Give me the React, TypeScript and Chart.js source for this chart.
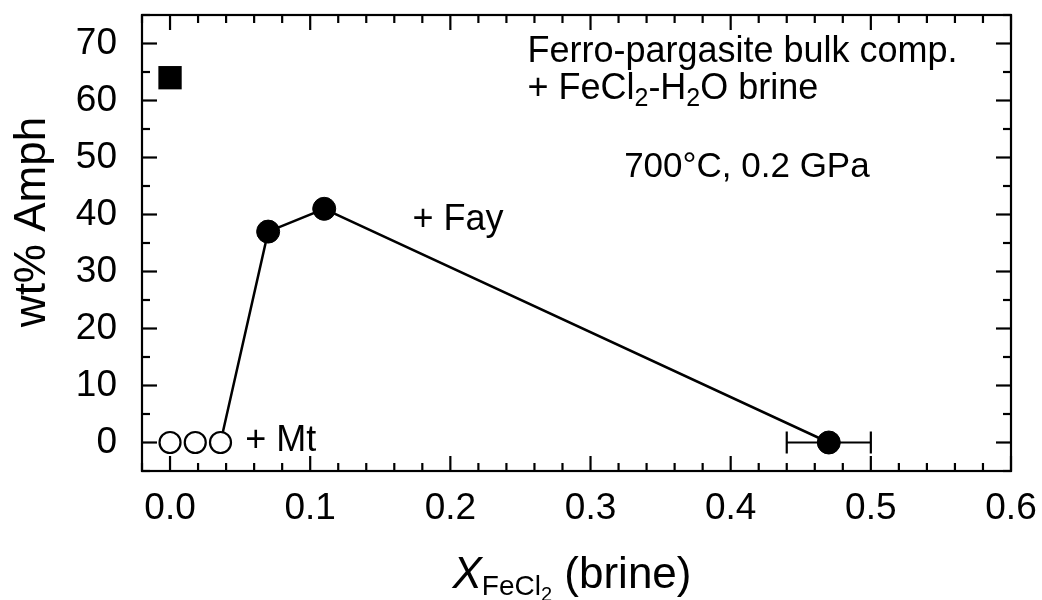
import React, { useEffect, useRef } from 'react';
import { Chart, registerables } from 'chart.js';

Chart.register(...registerables);

// ---- axes ----
const xMin = -0.02;
const xMax = 0.6;
const yMin = -5;
const yMax = 75;
const xTicks = [0.0, 0.1, 0.2, 0.3, 0.4, 0.5, 0.6];
const yTicks = [0, 10, 20, 30, 40, 50, 60, 70];
const xMinorStep = 0.02;
const yMinorStep = 5;

// ---- data ----
// connecting trend line
const lineX = [0.036, 0.07, 0.11, 0.47];
const lineY = [0, 37, 41, 0];
// filled circles (+ Fay)
const fayX = [0.07, 0.11, 0.47];
const fayY = [37, 41, 0];
// open circles (+ Mt)
const mtX = [0.0, 0.018, 0.036];
const mtY = [0, 0, 0];
// filled square (bulk)
const bulkX = [0.0];
const bulkY = [64];
// horizontal error bar
const errX = [0.47];
const errY = [0];
const errLo = [0.44];
const errHi = [0.5];

const FONT = "'Liberation Sans', Arial, Helvetica, sans-serif";

type Run = { t: string; size: number; dy: number; italic?: boolean };

function runsWidth(ctx: CanvasRenderingContext2D, runs: Run[]) {
  let w = 0;
  for (const r of runs) {
    ctx.font = `${r.italic ? 'italic ' : ''}${r.size}px ${FONT}`;
    w += ctx.measureText(r.t).width;
  }
  return w;
}

function drawRuns(ctx: CanvasRenderingContext2D, runs: Run[], x: number, y: number) {
  let cx = x;
  ctx.textAlign = 'left';
  ctx.textBaseline = 'alphabetic';
  for (const r of runs) {
    ctx.font = `${r.italic ? 'italic ' : ''}${r.size}px ${FONT}`;
    ctx.fillText(r.t, cx, y + r.dy);
    cx += ctx.measureText(r.t).width;
  }
}

const framePlugin = {
  id: 'frame',
  beforeDatasetsDraw(chart: any) {
    const { ctx, chartArea, scales } = chart;
    const { left, right, top, bottom } = chartArea;
    const xs = scales.x;
    const ys = scales.y;
    ctx.save();
    ctx.strokeStyle = '#000';
    ctx.lineWidth = 2.2;
    ctx.strokeRect(left, top, right - left, bottom - top);
    const seg = (a: number, b: number, c: number, d: number) => {
      ctx.beginPath();
      ctx.moveTo(a, b);
      ctx.lineTo(c, d);
      ctx.stroke();
    };
    const majorLen = 15;
    const minorLen = 8;
    const nx = Math.round((xMax - xMin) / xMinorStep);
    for (let i = 0; i <= nx; i++) {
      const v = xMin + i * xMinorStep;
      const isMajor = xTicks.some((t) => Math.abs(t - v) < 1e-6);
      const len = isMajor ? majorLen : minorLen;
      const px = xs.getPixelForValue(v);
      seg(px, bottom, px, bottom - len);
      seg(px, top, px, top + len);
    }
    const ny = Math.round((yMax - yMin) / yMinorStep);
    for (let i = 0; i <= ny; i++) {
      const v = yMin + i * yMinorStep;
      const isMajor = yTicks.some((t) => Math.abs(t - v) < 1e-6);
      const len = isMajor ? majorLen : minorLen;
      const py = ys.getPixelForValue(v);
      seg(left, py, left + len, py);
      seg(right, py, right - len, py);
    }
    // error bars
    ctx.lineWidth = 2.2;
    for (let i = 0; i < errX.length; i++) {
      const py = ys.getPixelForValue(errY[i]);
      const a = xs.getPixelForValue(errLo[i]);
      const b = xs.getPixelForValue(errHi[i]);
      seg(a, py, b, py);
      seg(a, py - 11, a, py + 11);
      seg(b, py - 11, b, py + 11);
    }
    ctx.restore();
  },
  afterDatasetsDraw(chart: any) {
    const { ctx, scales } = chart;
    const xs = scales.x;
    const ys = scales.y;
    ctx.save();
    ctx.fillStyle = '#000';
    const A = 36;
    const at = (x: number, y: number) => [xs.getPixelForValue(x), ys.getPixelForValue(y)];
    let p = at(0.255, 66.8);
    drawRuns(ctx, [{ t: 'Ferro-pargasite bulk comp.', size: A, dy: 0 }], p[0], p[1]);
    p = at(0.255, 60.3);
    drawRuns(
      ctx,
      [
        { t: '+ FeCl', size: A, dy: 0 },
        { t: '2', size: 25, dy: 7 },
        { t: '-H', size: A, dy: 0 },
        { t: '2', size: 25, dy: 7 },
        { t: 'O brine', size: A, dy: 0 },
      ],
      p[0],
      p[1]
    );
    p = at(0.324, 46.5);
    drawRuns(ctx, [{ t: '700°C, 0.2 GPa', size: 35, dy: 0 }], p[0], p[1]);
    p = at(0.173, 37.3);
    drawRuns(ctx, [{ t: '+ Fay', size: A, dy: 0 }], p[0], p[1]);
    p = at(0.0536, -1.5);
    drawRuns(ctx, [{ t: '+ Mt', size: A, dy: 0 }], p[0], p[1]);

    // x axis title
    const T = 44;
    const xr: Run[] = [
      { t: 'X', size: T, dy: 0, italic: true },
      { t: 'FeCl', size: 28, dy: 7 },
      { t: '2', size: 20, dy: 13 },
      { t: ' (brine)', size: T, dy: 0 },
    ];
    const w = runsWidth(ctx, xr);
    drawRuns(ctx, xr, 572 - w / 2, 588);

    // y axis title
    ctx.save();
    ctx.translate(45, 222);
    ctx.rotate(-Math.PI / 2);
    ctx.font = `${T}px ${FONT}`;
    ctx.textAlign = 'center';
    ctx.textBaseline = 'alphabetic';
    ctx.fillText('wt% Amph', 0, 0);
    ctx.restore();
    ctx.restore();
  },
};

const pts = (xa: number[], ya: number[]) => xa.map((x, i) => ({ x, y: ya[i] }));

const zeroPad = (s: any) => {
  s.paddingTop = 0;
  s.paddingBottom = 0;
  s.paddingLeft = 0;
  s.paddingRight = 0;
};

export default function App() {
  const ref = useRef<HTMLCanvasElement>(null);
  useEffect(() => {
    const canvas = ref.current!;
    const chart = new Chart(canvas, {
      type: 'scatter',
      data: {
        datasets: [
          {
            label: 'trend',
            data: pts(lineX, lineY),
            showLine: true,
            borderColor: '#000',
            borderWidth: 2.5,
            pointRadius: 0,
            order: 10,
          },
          {
            label: '+ Fay',
            data: pts(fayX, fayY),
            pointStyle: 'circle',
            pointRadius: 11.5,
            backgroundColor: '#000',
            borderColor: '#000',
            borderWidth: 1,
            order: 1,
          },
          {
            label: '+ Mt',
            data: pts(mtX, mtY),
            pointStyle: 'circle',
            pointRadius: 10.5,
            backgroundColor: '#fff',
            borderColor: '#000',
            borderWidth: 2.2,
            order: 1,
          },
          {
            label: 'bulk',
            data: pts(bulkX, bulkY),
            pointStyle: 'rect',
            pointRadius: 16.5,
            backgroundColor: '#000',
            borderColor: '#000',
            borderWidth: 0,
            order: 1,
          },
        ],
      },
      options: {
        responsive: false,
        animation: false,
        devicePixelRatio: 1,
        layout: { autoPadding: false, padding: { left: 0, top: 15, right: 31, bottom: 0 } },
        plugins: { legend: { display: false }, tooltip: { enabled: false } },
        scales: {
          x: {
            type: 'linear',
            min: xMin,
            max: xMax,
            grid: { display: false, drawTicks: false },
            border: { display: false },
            afterBuildTicks: (s: any) => {
              s.ticks = xTicks.map((v) => ({ value: v }));
            },
            afterFit: (s: any) => {
              s.height = 129;
              zeroPad(s);
            },
            ticks: {
              padding: 16,
              color: '#000',
              font: { family: FONT, size: 37 },
              maxRotation: 0,
              autoSkip: false,
              callback: (v: any) => Number(v).toFixed(1),
            },
          },
          y: {
            type: 'linear',
            min: yMin,
            max: yMax,
            grid: { display: false, drawTicks: false },
            border: { display: false },
            afterBuildTicks: (s: any) => {
              s.ticks = yTicks.map((v) => ({ value: v }));
            },
            afterFit: (s: any) => {
              s.width = 142;
              zeroPad(s);
            },
            ticks: {
              padding: 25,
              color: '#000',
              font: { family: FONT, size: 37 },
              autoSkip: false,
              callback: (v: any) => String(v),
            },
          },
        },
      },
      plugins: [framePlugin],
    } as any);
    return () => chart.destroy();
  }, []);
  return (
    <div style={{ position: 'fixed', left: 0, top: 0, width: 1042, height: 600, background: '#fff' }}>
      <canvas ref={ref} width={1042} height={600} style={{ display: 'block', width: 1042, height: 600 }} />
    </div>
  );
}
